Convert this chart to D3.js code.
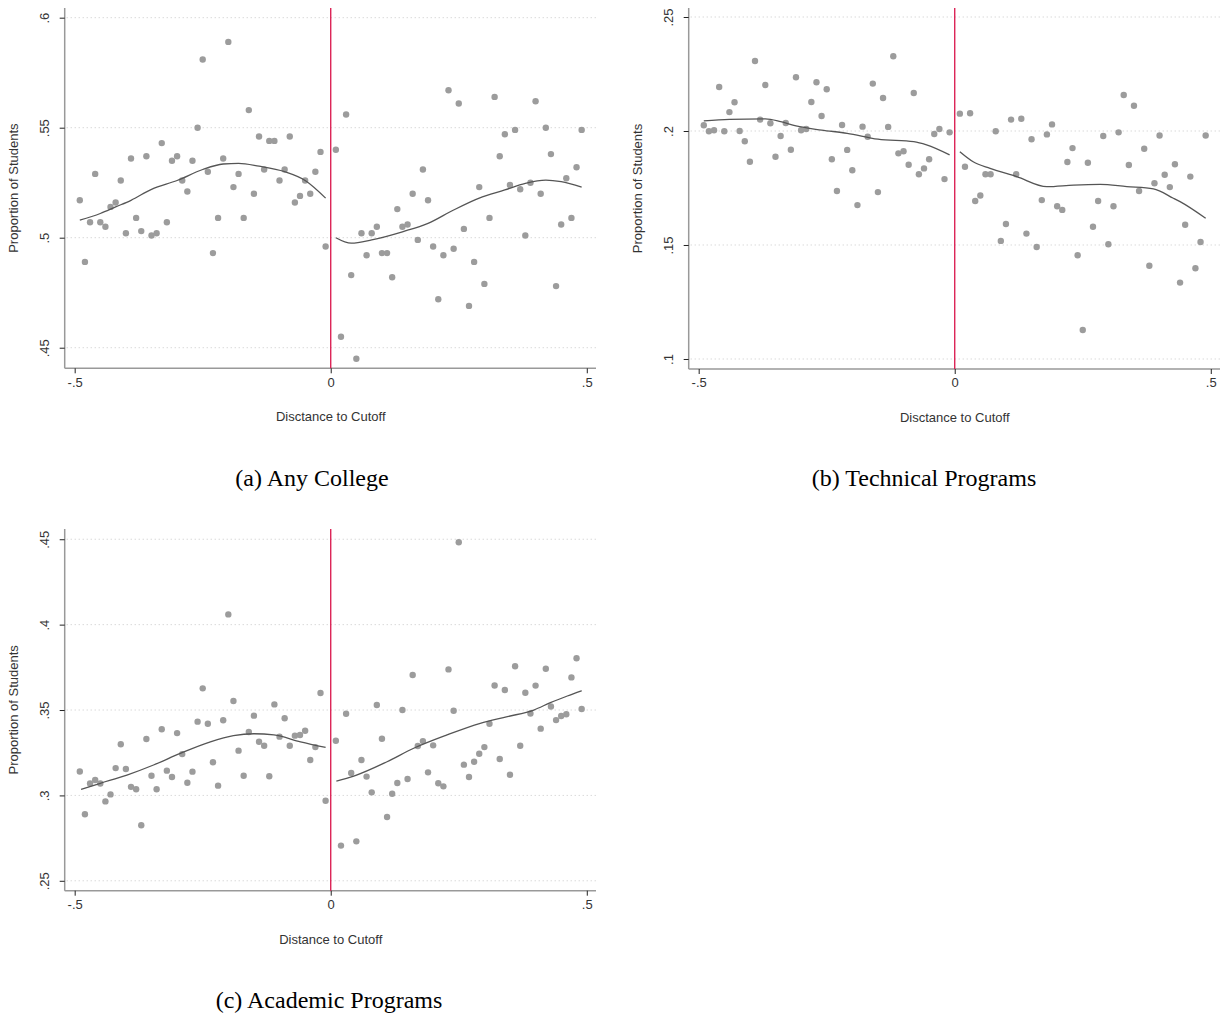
<!DOCTYPE html>
<html>
<head>
<meta charset="utf-8">
<script src="https://cdn.jsdelivr.net/npm/d3@7/dist/d3.min.js"></script>
<style>
	body { margin: 0; background: #fff; }
	svg { display: block; }
	.tick-label, .axis-title { font-family: "Liberation Sans", Arial, sans-serif; font-size: 13px; fill: #333; }
	.caption { font-family: "Liberation Serif", "Times New Roman", serif; font-size: 24px; fill: #000; }
</style>
</head>
<body>
<svg id="chart"></svg>
<script>

// bin centres, left and right of the cutoff
let binsLeft = [-.49,-.48,-.47,-.46,-.45,-.44,-.43,-.42,-.41,-.40,-.39,-.38,-.37,-.36,-.35,-.34,-.33,-.32,-.31,-.30,
	-.29,-.28,-.27,-.26,-.25,-.24,-.23,-.22,-.21,-.20,-.19,-.18,-.17,-.16,-.15,-.14,-.13,-.12,-.11,-.10,
	-.09,-.08,-.07,-.06,-.05,-.04,-.03,-.02,-.01]
let binsRight = [.01,.02,.03,.04,.05,.06,.07,.08,.09,.10,.11,.12,.13,.14,.15,.16,.17,.18,.19,.20,
	.21,.22,.23,.24,.25,.26,.27,.28,.29,.30,.31,.32,.33,.34,.35,.36,.37,.38,.39,.40,
	.41,.42,.43,.44,.45,.46,.47,.48,.49]

// (a) Any College
let anyLeft = [.517,.489,.507,.529,.507,.505,.514,.516,.526,.502,.536,.509,.503,.537,.501,.502,.543,.507,.535,.537,
	.526,.521,.535,.550,.581,.530,.493,.509,.536,.589,.523,.529,.509,.558,.520,.546,.531,.544,.544,.526,
	.531,.546,.516,.519,.526,.520,.530,.539,.496]
let anyRight = [.540,.455,.556,.483,.445,.502,.492,.502,.505,.493,.493,.482,.513,.505,.506,.520,.499,.531,.517,.496,
	.472,.492,.567,.495,.561,.504,.469,.489,.523,.479,.509,.564,.537,.547,.524,.549,.522,.501,.525,.562,
	.520,.550,.538,.478,.506,.527,.509,.532,.549]
let anyFitLeftX = [-.49,-.45,-.42,-.39,-.35,-.30,-.25,-.21,-.18,-.14,-.09,-.05,-.01]
let anyFitLeftY = [.508,.511,.514,.517,.522,.526,.531,.5335,.5338,.5325,.530,.526,.518]
let anyFitRightX = [.01,.04,.08,.14,.19,.24,.29,.34,.38,.42,.45,.49]
let anyFitRightY = [.500,.4975,.499,.5027,.5065,.5126,.518,.5217,.5247,.5262,.5255,.523]

// (b) Technical Programs
let techLeft = [.2025,.1999,.2003,.2193,.1999,.2083,.2126,.2000,.1955,.1865,.2307,.2050,.2202,.2034,.1887,.1978,.2035,.1918,.2236,.2003,
	.2009,.2127,.2214,.2066,.2183,.1876,.1737,.2026,.1917,.1828,.1675,.2019,.1975,.2208,.1732,.2145,.2018,.2328,.1902,.1911,
	.1852,.2167,.1810,.1836,.1876,.1987,.2009,.1789,.1994]
let techRight = [.2076,.1843,.2078,.1693,.1717,.1810,.1810,.1999,.1518,.1592,.2050,.1810,.2054,.1550,.1964,.1491,.1697,.1985,.2029,.1670,
	.1654,.1864,.1925,.1455,.1127,.1861,.1580,.1693,.1978,.1503,.1670,.1994,.2158,.1851,.2111,.1737,.1922,.1409,.1771,.1980,
	.1808,.1754,.1854,.1335,.1589,.1800,.1398,.1513,.1980]
let techFitLeftX = [-.49,-.44,-.37,-.34,-.31,-.26,-.21,-.15,-.08,-.055,-.01]
let techFitLeftY = [.2044,.2051,.2053,.2041,.2022,.2004,.1990,.1964,.1953,.1939,.1895]
let techFitRightX = [.01,.036,.069,.121,.18,.232,.284,.336,.388,.427,.44,.49]
let techFitRightY = [.1909,.1865,.1836,.1800,.1756,.1763,.1766,.1756,.1746,.1705,.1690,.1617]

// (c) Academic Programs
let acadLeft = [.314,.289,.307,.309,.307,.2965,.3006,.316,.330,.3155,.305,.3036,.2825,.333,.3115,.3036,.3387,.3145,.3108,.3365,
	.3242,.3074,.3139,.3432,.3627,.342,.3194,.3057,.344,.406,.3553,.3262,.3115,.3371,.3467,.3314,.3291,.3112,.3533,.3344,
	.3452,.3291,.335,.3354,.3379,.3207,.3283,.360,.2969]
let acadRight = [.332,.2706,.3478,.3131,.2731,.3207,.311,.3018,.3529,.3332,.2874,.301,.3073,.350,.3096,.3705,.3289,.3318,.3135,.3293,
	.3071,.3053,.3738,.3496,.4482,.318,.3108,.3197,.3244,.3283,.342,.3644,.3213,.3617,.3121,.3756,.3291,.3601,.348,.3643,
	.3391,.3742,.3521,.3441,.3465,.3475,.3691,.3803,.3506]
let acadFitLeftX = [-.4875,-.45,-.398,-.346,-.294,-.235,-.19,-.15,-.111,-.059,-.01]
let acadFitLeftY = [.3036,.3071,.3119,.3178,.3246,.3314,.335,.3361,.3354,.3314,.3281]
let acadFitRightX = [.011,.045,.11,.162,.227,.292,.345,.3965,.429,.462,.49]
let acadFitRightY = [.3084,.3113,.3197,.3276,.3354,.3422,.3461,.350,.3543,.3582,.3613]

// tick labels
let xTicks = [-.5, 0, .5]
let xTickLabels = ["-.5", "0", ".5"]
let anyTicks = [.45, .5, .55, .6]
let anyTickLabels = [".45", ".5", ".55", ".6"]
let techTicks = [.1, .15, .2, .25]
let techTickLabels = [".1", ".15", ".2", ".25"]
let acadTicks = [.25, .3, .35, .4, .45]
let acadTickLabels = [".25", ".3", ".35", ".4", ".45"]

let width = 1225
let height = 1013

let chart = d3.select("#chart")
	.attr("width", width)
	.attr("height", height)

function zip(xs, ys) {
	return xs.map(function(x, i){ return {x: x, y: ys[i]} })
}

function drawPanel(p) {
	let xScale = d3.scaleLinear().domain([-.5195, .518]).range([p.left, p.right])
	let yScale = d3.scaleLinear().domain(p.yDomain).range([p.bottom, p.top])
	let g = chart.append("g")

	// dotted grid lines
	g.selectAll("line.grid")
		.data(p.yTicks)
		.enter().append("line")
		.attr("x1", p.left + 2).attr("x2", p.right)
		.attr("y1", function(d){ return yScale(d) })
		.attr("y2", function(d){ return yScale(d) })
		.style("stroke", "#c8c8c8")
		.style("stroke-width", 1)
		.style("stroke-dasharray", "1,3")

	// y axis
	let yAxis = d3.axisLeft(yScale).tickValues(p.yTicks).tickSize(5)
		.tickFormat(function(d, i){ return p.yLabels[i] })
	let yg = g.append("g").attr("transform", "translate(" + p.left + ",0)").call(yAxis)
	yg.select(".domain").attr("d", "M0," + p.top + "V" + p.bottom).style("stroke", "#999").style("stroke-width", 1.5)
	yg.selectAll(".tick line").style("stroke", "#222")
	yg.selectAll(".tick text")
		.attr("class", "tick-label")
		.attr("x", null).attr("dy", null)
		.attr("transform", "translate(-16,0) rotate(-90)")
		.style("text-anchor", "middle")
		.style("font-size", null).style("font-family", null)

	// x axis
	let xAxis = d3.axisBottom(xScale).tickValues(xTicks).tickSize(5)
		.tickFormat(function(d, i){ return xTickLabels[i] })
	let xg = g.append("g").attr("transform", "translate(0," + p.bottom + ")").call(xAxis)
	xg.select(".domain").attr("d", "M" + p.left + ",0H" + p.right).style("stroke", "#999").style("stroke-width", 1.5)
	xg.selectAll(".tick line").style("stroke", "#222")
	xg.selectAll(".tick text")
		.attr("class", "tick-label")
		.attr("y", 9)
		.style("font-size", null).style("font-family", null)

	// points
	let pts = zip(binsLeft, p.left_).concat(zip(binsRight, p.right_))
	g.selectAll("circle.pt")
		.data(pts)
		.enter().append("circle")
		.attr("cx", function(d){ return xScale(d.x) })
		.attr("cy", function(d){ return yScale(d.y) })
		.attr("r", 3.2)
		.style("fill", "#9c9c9c")

	// fitted curves
	let line = d3.line().curve(d3.curveMonotoneX)
		.x(function(d){ return xScale(d.x) })
		.y(function(d){ return yScale(d.y) })
	;[p.fitL, p.fitR].forEach(function(f){
		g.append("path")
			.attr("d", line(f))
			.style("fill", "none")
			.style("stroke", "#555")
			.style("stroke-width", 1.3)
	})

	// cutoff
	g.append("line")
		.attr("x1", xScale(0)).attr("x2", xScale(0))
		.attr("y1", p.top).attr("y2", p.bottom)
		.style("stroke", "#d9134a")
		.style("stroke-width", 1.3)

	// titles
	g.append("text")
		.attr("class", "axis-title")
		.attr("transform", "translate(" + (p.left - 47) + "," + ((p.top + p.bottom) / 2) + ") rotate(-90)")
		.style("text-anchor", "middle")
		.text("Proportion of Students")
	g.append("text")
		.attr("class", "axis-title")
		.attr("x", xScale(0)).attr("y", p.bottom + 53)
		.style("text-anchor", "middle")
		.text(p.xTitle)
	g.append("text")
		.attr("class", "caption")
		.attr("x", p.captionX).attr("y", p.captionY)
		.style("text-anchor", "middle")
		.text(p.caption)
}

drawPanel({
	left: 64.7, right: 596, top: 8, bottom: 368.3, yDomain: [.44064, .6044],
	yTicks: anyTicks, yLabels: anyTickLabels,
	left_: anyLeft, right_: anyRight,
	fitL: zip(anyFitLeftX, anyFitLeftY), fitR: zip(anyFitRightX, anyFitRightY),
	xTitle: "Disctance to Cutoff", caption: "(a) Any College", captionX: 312, captionY: 486
})
drawPanel({
	left: 688.7, right: 1220, top: 8, bottom: 369, yDomain: [.09561, .25395],
	yTicks: techTicks, yLabels: techTickLabels,
	left_: techLeft, right_: techRight,
	fitL: zip(techFitLeftX, techFitLeftY), fitR: zip(techFitRightX, techFitRightY),
	xTitle: "Disctance to Cutoff", caption: "(b) Technical Programs", captionX: 924, captionY: 486
})
drawPanel({
	left: 64.7, right: 596, top: 529, bottom: 890.7, yDomain: [.2442, .456],
	yTicks: acadTicks, yLabels: acadTickLabels,
	left_: acadLeft, right_: acadRight,
	fitL: zip(acadFitLeftX, acadFitLeftY), fitR: zip(acadFitRightX, acadFitRightY),
	xTitle: "Distance to Cutoff", caption: "(c) Academic Programs", captionX: 329, captionY: 1008
})

</script>
</body>
</html>
